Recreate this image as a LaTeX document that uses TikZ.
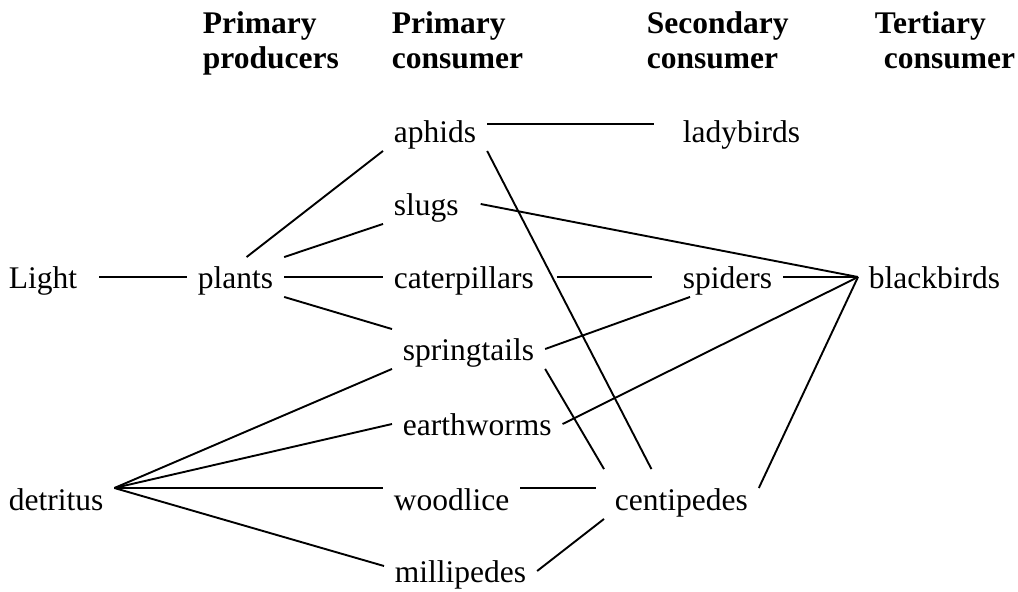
\documentclass[tikz,border=0pt]{standalone}
\usepackage{fontspec}
\setmainfont{Liberation Serif}
\usetikzlibrary{calc}

\begin{document}
\begin{tikzpicture}[x=1pt,y=-1pt,line width=1.9pt,
    org/.style={anchor=base west,inner xsep=10pt,inner ysep=8pt,text height=22pt,text depth=0pt,
        font=\fontsize{31.5}{35}\selectfont},
    head/.style={anchor=north west,inner sep=0pt,align=left,
        font=\fontsize{31.5}{35}\selectfont\bfseries}]

            \useasboundingbox (0,0) rectangle (1018,592);

            \node[head] (hprod) at (202,11) {Primary\\producers};
            \node[head] (hprim) at (391,11) {Primary\\consumer};
            \node[head] (hsec) at (646,11) {Secondary\\consumer};
            \node[head] (hter) at (874,11) {Tertiary\\\hspace*{9pt}consumer};

            \node[org] (light) at (-2,288) {Light};
            \node[org] (plants) at (187,288) {plants};
            \node[org] (detritus) at (-2,510) {detritus};
            \node[org] (aphids) at (383,142) {aphids};
            \node[org] (slugs) at (383,215) {slugs};
            \node[org] (caterpillars) at (383,288) {caterpillars};
            \node[org] (springtails) at (392,360) {springtails};
            \node[org] (earthworms) at (392,435) {earthworms};
            \node[org] (woodlice) at (383,510) {woodlice};
            \node[org] (millipedes) at (384,582) {millipedes};
            \node[org] (ladybirds) at (672,142) {ladybirds};
            \node[org] (spiders) at (672,288) {spiders};
            \node[org] (centipedes) at (604,510) {centipedes};
            \node[org] (blackbirds) at (858,288) {blackbirds};

            \coordinate (dx) at ([yshift=11pt]detritus.east);

            \draw[shorten <=11pt] (light.east) -- (plants.west);
            \draw ([xshift=11pt]plants.north) -- (aphids.south west);
            \draw (plants.north east) -- (slugs.south west);
            \draw (plants.east) -- (caterpillars.west);
            \draw (plants.south east) -- (springtails.north west);

            \draw (dx) -- (springtails.south west);
            \draw (dx) -- (earthworms.west);
            \draw (dx) -- ([yshift=11pt]woodlice.west);
            \draw (dx) -- ([yshift=5pt]millipedes.west);

            \draw[shorten >=18pt] ([yshift=7pt]aphids.east) -- ([yshift=7pt]ladybirds.west);
            \draw (aphids.south east) -- ([xshift=-30pt,yshift=10pt]centipedes.north);
            \draw ([xshift=11pt]slugs.east) -- (blackbirds.west);
            \draw[shorten <=12pt,shorten >=20pt] (caterpillars.east) -- (spiders.west);
            \draw (springtails.east) -- ([xshift=18pt]spiders.south west);
            \draw (springtails.south east) -- ([yshift=10pt]centipedes.north west);
            \draw (earthworms.east) -- (blackbirds.west);
            \draw ([yshift=11pt]woodlice.east) -- ([yshift=11pt,xshift=-8pt]centipedes.west);
            \draw (millipedes.east) -- (centipedes.south west);

            \draw (spiders.east) -- (blackbirds.west);
            \draw ([yshift=11pt]centipedes.east) -- (blackbirds.west);
        \end{tikzpicture}
\end{document}
